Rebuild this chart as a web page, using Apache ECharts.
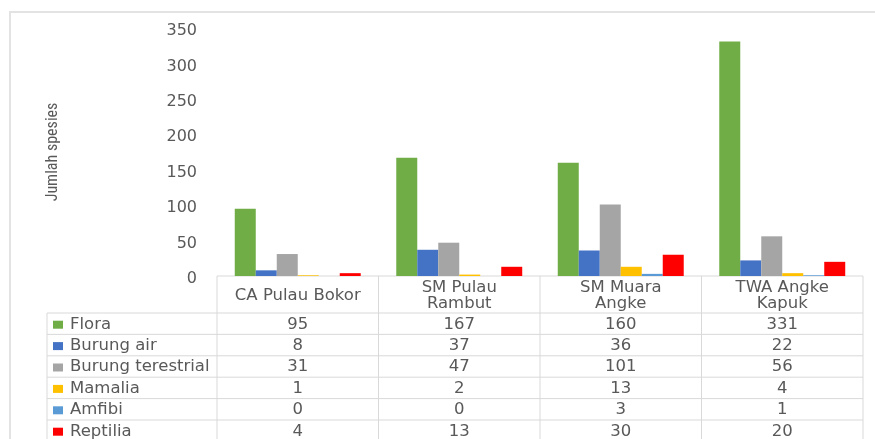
<!DOCTYPE html>
<html>
<head>
<meta charset="utf-8">
<script src="https://cdn.jsdelivr.net/npm/echarts@6/dist/echarts.min.js"></script>
<style>
  html, body { margin: 0; padding: 0; background: #fff; }
  #main { width: 875px; height: 439px; }
</style>
</head>
<body>
<div id="main"></div>
<script>
// lokasi (kategori)
const categories = ['CA Pulau Bokor', 'SM Pulau\nRambut', 'SM Muara\nAngke', 'TWA Angke\nKapuk'];
const seriesNames = ['Flora', 'Burung air', 'Burung terestrial', 'Mamalia', 'Amfibi', 'Reptilia'];
const flora = [95, 167, 160, 331];
const burungAir = [8, 37, 36, 22];
const burungTerestrial = [31, 47, 101, 56];
const mamalia = [1, 2, 13, 4];
const amfibi = [0, 0, 3, 1];
const reptilia = [4, 13, 30, 20];
const colors = ['#70ad47', '#4472c4', '#a5a5a5', '#ffc000', '#5b9bd5', '#ff0000'];

const values = [flora, burungAir, burungTerestrial, mamalia, amfibi, reptilia];

const W = 875, H = 439;
const gridLeft = 217, gridRight = 12, gridTop = 28, gridBottom = 163;
const plotW = W - gridLeft - gridRight;
const colW = plotW / categories.length;
const axisY = H - gridBottom;
const headerH = 37, rowH = 21.4;
const tableLeft = 47;
const lineColor = '#d9d9d9';
const txtColor = '#595959';
const font = '"DejaVu Sans", Verdana, sans-serif';

let chart = echarts.init(document.getElementById('main'));

// tabel data di bawah grafik
const g = [];
function hline(x1, x2, y) {
  g.push({ type: 'line', shape: { x1: x1, y1: y, x2: x2, y2: y }, style: { stroke: lineColor, lineWidth: 1 }, silent: true });
}
function vline(x, y1, y2) {
  g.push({ type: 'line', shape: { x1: x, y1: y1, x2: x, y2: y2 }, style: { stroke: lineColor, lineWidth: 1 }, silent: true });
}
function txt(s, x, y, align) {
  g.push({ type: 'text', x: x, y: y, scaleX: 1.1, silent: true,
    style: { text: s, fill: txtColor, font: '15px ' + font, align: align, verticalAlign: 'middle', lineHeight: 16 } });
}

const tableRight = gridLeft + plotW;
const rowsTop = axisY + headerH;
const tableBottom = rowsTop + rowH * seriesNames.length;
hline(gridLeft, tableRight, axisY);
for (let r = 0; r <= seriesNames.length; r++) {
  hline(tableLeft, tableRight, rowsTop + r * rowH);
}
vline(tableLeft, rowsTop, tableBottom);
for (let c = 0; c <= categories.length; c++) {
  vline(gridLeft + c * colW, axisY, tableBottom);
}
categories.forEach(function (cat, c) {
  txt(cat, gridLeft + (c + 0.5) * colW, axisY + headerH / 2 + 2, 'center');
});
seriesNames.forEach(function (name, r) {
  const cy = rowsTop + (r + 0.5) * rowH + 1;
  g.push({ type: 'rect', shape: { x: tableLeft + 6, y: cy - 4, width: 10, height: 8 }, style: { fill: colors[r] }, silent: true });
  txt(name, tableLeft + 23, cy, 'left');
  values[r].forEach(function (v, c) {
    txt(String(v), gridLeft + (c + 0.5) * colW, cy, 'center');
  });
});
// bingkai luar
g.push({ type: 'rect', shape: { x: 10, y: 12, width: W, height: H }, style: { fill: 'none', stroke: '#e3e3e3', lineWidth: 2 }, silent: true, z: -1 });

let option = {
  animation: false,
  backgroundColor: '#fff',
  grid: { left: gridLeft, right: gridRight, top: gridTop, bottom: gridBottom },
  xAxis: {
    type: 'category',
    data: categories,
    axisLine: { show: false },
    axisTick: { show: false },
    axisLabel: { show: false }
  },
  yAxis: {
    type: 'value',
    min: 0,
    max: 350,
    interval: 50,
    name: 'Jumlah spesies',
    nameLocation: 'middle',
    nameGap: 156,
    nameRotate: 90,
    nameTextStyle: { color: txtColor, fontSize: 16, fontFamily: '"Liberation Sans Narrow", "Roboto Condensed", sans-serif' },
    axisLine: { show: false },
    axisTick: { show: false },
    splitLine: { show: false },
    axisLabel: { color: txtColor, fontSize: 16, margin: 20, fontFamily: font, verticalAlign: 'top', lineHeight: 6 }
  },
  series: seriesNames.map(function (name, i) {
    return {
      name: name,
      type: 'bar',
      data: values[i],
      barGap: '0%',
      barCategoryGap: '22%',
      itemStyle: { color: colors[i] }
    };
  }),
  graphic: g
};
chart.setOption(option, true);
window.addEventListener('resize', function () {
  chart.resize();
});
</script>
</body>
</html>
